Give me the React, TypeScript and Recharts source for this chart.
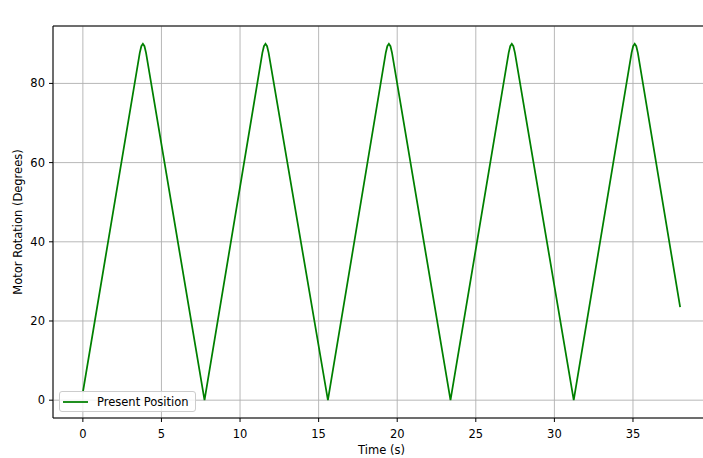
import React from 'react';
import { LineChart, Line, XAxis, YAxis, CartesianGrid, Legend, ReferenceLine } from 'recharts';

// time (s): start, rounded peaks, sharp valleys, end
const timeS = [
  0,
  3.62, 3.72, 3.82, 3.92, 4.02,
  7.74,
  11.42, 11.52, 11.62, 11.72, 11.82,
  15.59,
  19.27, 19.37, 19.47, 19.57, 19.67,
  23.39,
  27.09, 27.19, 27.29, 27.39, 27.49,
  31.23,
  34.91, 35.01, 35.11, 35.21, 35.31,
  38,
];

const positionDeg = [
  2,
  87.7, 89.4, 90, 89.4, 87.7,
  0,
  87.7, 89.4, 90, 89.4, 87.7,
  0,
  87.7, 89.4, 90, 89.4, 87.7,
  0,
  87.7, 89.4, 90, 89.4, 87.7,
  0,
  87.7, 89.4, 90, 89.4, 87.7,
  23.5,
];

const xTicks = [0, 5, 10, 15, 20, 25, 30, 35];
const yTicks = [0, 20, 40, 60, 80];
const yDomain = [-4.5, 94.5];

const data = timeS.map((t, i) => ({ t, pos: positionDeg[i] }));

const FONT = '"DejaVu Sans", sans-serif';
const tickStyle = { fontFamily: FONT, fontSize: 11.5, fill: '#000' };

const LegendBox = () => (
  <div
    style={{
      boxSizing: 'border-box',
      width: 137,
      height: 21,
      border: '1px solid #cccccc',
      borderRadius: 3,
      background: 'rgba(255,255,255,0.8)',
      display: 'flex',
      alignItems: 'center',
      fontFamily: FONT,
      fontSize: 11.5,
      color: '#000',
    }}
  >
    <svg width={34} height={10} style={{ marginLeft: 3 }}>
      <line x1={0} y1={5} x2={25} y2={5} stroke="#008000" strokeWidth={1.75} />
    </svg>
    <span>Present Position</span>
  </div>
);

export default function App() {
  return (
    <div
      style={{
        position: 'fixed',
        left: 0,
        top: 0,
        width: 703,
        height: 458,
        overflow: 'hidden',
        background: '#fff',
      }}
    >
      <LineChart width={720} height={458} data={data} margin={{ top: 26, right: 10, bottom: 0, left: 0 }}>
        <CartesianGrid stroke="#b0b0b0" strokeWidth={0.9} />
        <XAxis
          dataKey="t"
          type="number"
          domain={[-1.9, 39.9]}
          ticks={xTicks}
          allowDataOverflow
          height={40}
          tickSize={4}
          tickMargin={8}
          axisLine={{ stroke: '#000', strokeWidth: 1 }}
          tickLine={{ stroke: '#000', strokeWidth: 1 }}
          tick={tickStyle}
          label={{
            content: ({ viewBox }: any) => (
              <text
                x={viewBox.x + viewBox.width / 2}
                y={viewBox.y + 36}
                textAnchor="middle"
                style={{ fontFamily: FONT, fontSize: 11.5, fill: '#000' }}
              >
                Time (s)
              </text>
            ),
          }}
        />
        <XAxis
          xAxisId="top"
          orientation="top"
          dataKey="t"
          type="number"
          domain={[-1.9, 39.9]}
          allowDataOverflow
          height={0}
          tick={false}
          tickLine={false}
          axisLine={false}
          label={{
            content: ({ viewBox }: any) => (
              <text
                x={viewBox.x + viewBox.width / 2}
                y={viewBox.y - 7}
                textAnchor="middle"
                style={{ fontFamily: FONT, fontSize: 14, fill: '#000' }}
              >
                Present Position Over Time
              </text>
            ),
          }}
        />
        <YAxis
          type="number"
          domain={yDomain}
          ticks={yTicks}
          allowDataOverflow
          width={53}
          tickSize={4}
          tickMargin={4}
          axisLine={{ stroke: '#000', strokeWidth: 1 }}
          tickLine={{ stroke: '#000', strokeWidth: 1 }}
          tick={tickStyle}
          label={{
            content: ({ viewBox }: any) => {
              const cx = viewBox.x + 22;
              const cy = viewBox.y + viewBox.height / 2;
              return (
                <text
                  x={cx}
                  y={cy}
                  textAnchor="middle"
                  transform={`rotate(-90 ${cx} ${cy})`}
                  style={{ fontFamily: FONT, fontSize: 11.5, fill: '#000' }}
                >
                  Motor Rotation (Degrees)
                </text>
              );
            },
          }}
        />
        {/* top spine */}
        <ReferenceLine y={yDomain[1]} stroke="#000" strokeWidth={1} ifOverflow="visible" />
        <Line
          type="linear"
          dataKey="pos"
          name="Present Position"
          stroke="#008000"
          strokeWidth={1.75}
          dot={false}
          activeDot={false}
          isAnimationActive={false}
        />
        <Legend
          layout="horizontal"
          verticalAlign="middle"
          align="center"
          content={() => <LegendBox />}
          wrapperStyle={{ position: 'absolute', left: 59, top: 391, width: 'auto', height: 'auto' }}
        />
      </LineChart>
    </div>
  );
}
